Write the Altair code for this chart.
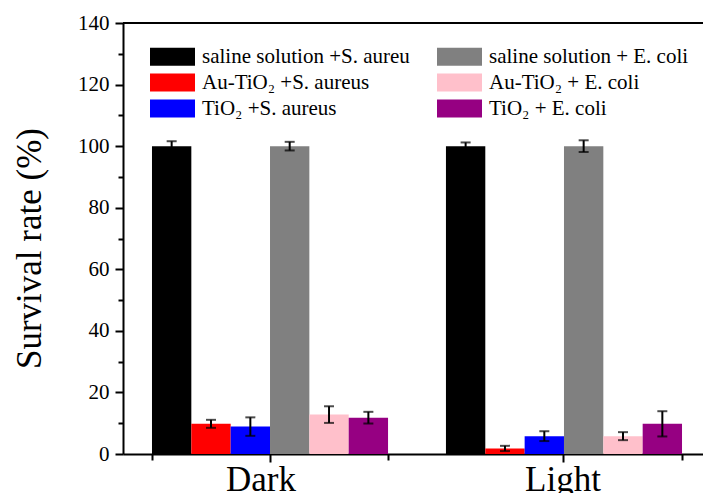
import altair as alt
import pandas as pd

groups = ["Dark", "Light"]
series = [
    "saline solution +S. aureu",
    "Au-TiO₂ +S. aureus",
    "TiO₂ +S. aureus",
    "saline solution + E. coli",
    "Au-TiO₂ + E. coli",
    "TiO₂ + E. coli",
]
colors = ["#000000", "#FF0000", "#0000FF", "#808080", "#FFC0CB", "#960082"]
dark_vals = [100, 9.8, 8.9, 100, 12.8, 11.8]
dark_err = [1.6, 1.3, 3.0, 1.4, 2.7, 1.9]
light_vals = [100, 1.8, 5.8, 100, 5.8, 9.8]
light_err = [1.2, 0.85, 1.6, 1.9, 1.3, 4.1]

rows = []
for g, vals, errs in [("Dark", dark_vals, dark_err), ("Light", light_vals, light_err)]:
    for s, v, e in zip(series, vals, errs):
        rows.append({"group": g, "series": s, "value": v, "lo": v - e, "hi": v + e})
df = pd.DataFrame(rows)

FONT = "Liberation Serif"
W, H = 580, 431

xscale = alt.Scale(domain=groups, range=[0, 588], paddingInner=0.197, paddingOuter=0.0986)
yscale = alt.Scale(domain=[0, 140], nice=False)

yaxis = alt.Axis(
    values=list(range(0, 141, 10)),
    labelExpr="datum.value % 20 == 0 ? datum.label : ''",
    tickSize={"condition": {"test": "datum.value % 20 != 0", "value": 5}, "value": 8},
    tickWidth=2,
    tickColor="black",
    domainColor="black",
    domainWidth=2,
    grid=False,
    labelFont=FONT,
    labelFontSize=21,
    labelColor="black",
    labelPadding=6,
    title="Survival rate (%)",
    titleFont=FONT,
    titleFontSize=35,
    titleFontWeight="normal",
    titleColor="black",
    titleAngle=-90,
    titleBaseline="alphabetic",
    titleAlign="center",
    titleX=-83,
    titleY=225,
)
yenc = alt.Y("value:Q", scale=yscale, axis=yaxis)

xaxis_main = alt.Axis(
    orient="bottom",
    title=None,
    labelFont=FONT,
    labelFontSize=35,
    labelColor="black",
    labelPadding=0,
    labelAngle=0,
    labelOffset={"condition": {"test": "datum.value == 'Dark'", "value": -9}, "value": -1},
    tickSize=8,
    tickWidth=2,
    tickColor="black",
    domainColor="black",
    domainWidth=2,
)
xenc = alt.X("group:N", scale=xscale, axis=xaxis_main)
xoff = alt.XOffset("series:N", sort=series, scale=alt.Scale(paddingInner=0, paddingOuter=0))

bars = alt.Chart(df).mark_bar().encode(
    x=xenc,
    xOffset=xoff,
    y=yenc,
    color=alt.Color(
        "series:N",
        scale=alt.Scale(domain=series, range=colors),
        legend=alt.Legend(
            title=None,
            orient="none",
            legendX=39,
            legendY=23,
            columns=2,
            columnPadding=27,
            rowPadding=4,
            symbolType="M-2.5,-1H2.5V1H-2.5Z",
            symbolSize=324,
            symbolStrokeWidth=0,
            labelFont=FONT,
            labelFontSize=21,
            labelColor="black",
            labelOffset=19,
            labelLimit=400,
        ),
    ),
)

err_rule = alt.Chart(df).mark_rule(color="black", strokeWidth=2).encode(
    x=xenc,
    xOffset=xoff,
    y=alt.Y("lo:Q", scale=yscale, axis=yaxis),
    y2="hi:Q",
)

cap_lo = alt.Chart(df).mark_tick(color="black", thickness=2, size=10, orient="horizontal").encode(
    x=xenc,
    xOffset=xoff,
    y=alt.Y("lo:Q", scale=yscale, axis=yaxis),
)
cap_hi = alt.Chart(df).mark_tick(color="black", thickness=2, size=10, orient="horizontal").encode(
    x=xenc,
    xOffset=xoff,
    y=alt.Y("hi:Q", scale=yscale, axis=yaxis),
)

main = alt.layer(bars, err_rule, cap_lo, cap_hi)

extent_ticks = alt.Chart(df).mark_bar(opacity=0).encode(
    x=alt.X(
        "group:N",
        scale=xscale,
        axis=alt.Axis(
            orient="bottom",
            tickBand="extent",
            labels=False,
            domain=False,
            tickSize=6,
            tickWidth=2,
            tickColor="black",
            title=None,
        ),
    ),
    y=yenc,
)

top_line = alt.Chart(pd.DataFrame({"top": [140]})).mark_rule(color="black", strokeWidth=2).encode(
    y=alt.Y("top:Q", scale=yscale, axis=yaxis)
)

chart = (
    alt.layer(main, extent_ticks, top_line)
    .resolve_scale(x="independent")
    .properties(
        width=W,
        height=H,
        autosize=alt.AutoSizeParams(type="none"),
        padding={"left": 123, "top": 23, "right": 0, "bottom": 39},
    )
    .configure_view(stroke=None)
    .configure(background="white", font=FONT)
    .configure_axis(labelFont=FONT, titleFont=FONT)
    .configure_legend(labelFont=FONT)
)

chart.save("out.html", embed_options={"renderer": "svg", "actions": False})
